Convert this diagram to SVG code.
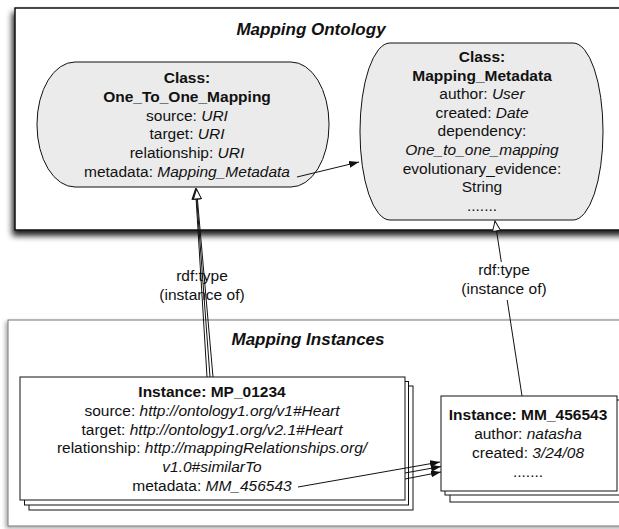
<svg xmlns="http://www.w3.org/2000/svg" width="619" height="529" viewBox="0 0 619 529">
<defs>
<style>
text { font-family: "Liberation Sans", Arial, Helvetica, sans-serif; font-size: 15.5px; fill: #111; text-anchor: middle; }
.b { font-weight: bold; }
.i { font-style: italic; }
.title { font-size: 17px; font-weight: bold; font-style: italic; }
.node { fill: #ebebeb; stroke: #111; stroke-width: 1; }
.card { fill: #fff; stroke: #111; stroke-width: 1; }
.conn { fill: none; stroke: #111; stroke-width: 1; }
.frame1 { fill: #fff; stroke: #111; stroke-width: 1.5; }
.frame2 { fill: #fff; stroke: #777; stroke-width: 1; }
</style>
<filter id="sh1" x="-10%" y="-10%" width="120%" height="125%">
<feGaussianBlur in="SourceAlpha" stdDeviation="3"/>
<feOffset dx="-2" dy="5"/>
<feComponentTransfer><feFuncA type="linear" slope="0.9"/></feComponentTransfer>
<feMerge><feMergeNode/><feMergeNode in="SourceGraphic"/></feMerge>
</filter>
<filter id="sh2" x="-10%" y="-10%" width="120%" height="125%">
<feGaussianBlur in="SourceAlpha" stdDeviation="2"/>
<feOffset dx="-2" dy="2"/>
<feComponentTransfer><feFuncA type="linear" slope="0.35"/></feComponentTransfer>
<feMerge><feMergeNode/><feMergeNode in="SourceGraphic"/></feMerge>
</filter>
<marker id="ah" viewBox="0 0 10 8" refX="10" refY="4" markerWidth="10" markerHeight="8" markerUnits="userSpaceOnUse" orient="auto">
<path d="M0,0.5 L10,4 L0,7.5 Z" fill="#111"/>
</marker>
<marker id="hollow" viewBox="-1 -1 12 10" refX="10" refY="4" markerWidth="12" markerHeight="10" markerUnits="userSpaceOnUse" orient="auto">
<path d="M0,0 L10,4 L0,8 Z" fill="#fff" stroke="#111" stroke-width="1"/>
</marker>
</defs>

<g id="mapping-ontology">
<rect class="frame1" x="15" y="8" width="620" height="222" filter="url(#sh1)"/>
<text class="title" x="311" y="35">Mapping Ontology</text>
</g>

<g id="mapping-instances">
<rect class="frame2" x="8" y="320" width="620" height="206" filter="url(#sh2)"/>
<text class="title" x="308" y="345">Mapping Instances</text>
</g>

<g id="class-one-to-one-mapping">
<rect class="node" x="37" y="62" width="292" height="125" rx="38" ry="62"/>
<text x="187" y="83" class="b">Class:</text>
<text x="187" y="102" class="b">One_To_One_Mapping</text>
<text x="187" y="120.5">source: <tspan class="i">URI</tspan></text>
<text x="187" y="139">target: <tspan class="i">URI</tspan></text>
<text x="187" y="158">relationship: <tspan class="i">URI</tspan></text>
<text x="187" y="177">metadata: <tspan class="i">Mapping_Metadata</tspan></text>
</g>

<g id="class-mapping-metadata">
<rect class="node" x="360" y="43" width="243" height="177" rx="30" ry="88"/>
<text x="482" y="62" class="b">Class:</text>
<text x="482" y="80.5" class="b">Mapping_Metadata</text>
<text x="482" y="99">author: <tspan class="i">User</tspan></text>
<text x="482" y="117.5">created: <tspan class="i">Date</tspan></text>
<text x="482" y="136">dependency:</text>
<text x="482" y="155" class="i">One_to_one_mapping</text>
<text x="482" y="173.5">evolutionary_evidence:</text>
<text x="482" y="192">String</text>
<text x="482" y="211">.......</text>
</g>

<g id="instance-mp-01234">
<rect class="card" x="29" y="386" width="384" height="124"/>
<rect class="card" x="24.5" y="381.5" width="384" height="123.5"/>
<rect class="card" x="20" y="377" width="385" height="123"/>
<text x="212" y="397" class="b">Instance: MP_01234</text>
<text x="212" y="416">source: <tspan class="i">http://ontology1.org/v1#Heart</tspan></text>
<text x="212" y="434.5">target: <tspan class="i">http://ontology1.org/v2.1#Heart</tspan></text>
<text x="212" y="453">relationship: <tspan class="i">http://mappingRelationships.org/</tspan></text>
<text x="212" y="472" class="i">v1.0#similarTo</text>
<text x="212" y="491">metadata: <tspan class="i">MM_456543</tspan></text>
</g>

<g id="instance-mm-456543">
<rect class="card" x="450" y="406" width="180" height="96"/>
<rect class="card" x="445" y="400" width="178" height="95"/>
<rect class="card" x="441" y="396" width="176" height="95"/>
<text x="528" y="420" class="b">Instance: MM_456543</text>
<text x="528" y="439">author: <tspan class="i">natasha</tspan></text>
<text x="528" y="458">created: <tspan class="i">3/24/08</tspan></text>
<text x="528" y="477">.......</text>
</g>

<g id="connectors">
<text x="202" y="281">rdf:type</text>
<text x="202" y="300">(instance of)</text>
<line class="conn" x1="207" y1="377" x2="195.5" y2="189" marker-end="url(#hollow)"/>
<line class="conn" x1="210" y1="377" x2="196" y2="189" marker-end="url(#hollow)"/>
<line class="conn" x1="213" y1="377" x2="196.5" y2="189" marker-end="url(#hollow)"/>
<line class="conn" x1="522" y1="396" x2="495" y2="221" marker-end="url(#hollow)"/>
<rect x="460" y="262" width="90" height="38" fill="#fff"/>
<text x="504" y="275">rdf:type</text>
<text x="504" y="294">(instance of)</text>
<line class="conn" x1="297" y1="177" x2="359" y2="162" marker-end="url(#ah)"/>
<line class="conn" x1="298" y1="487" x2="440" y2="462" marker-end="url(#ah)"/>
<line class="conn" x1="405" y1="473" x2="441" y2="466.5" marker-end="url(#ah)"/>
<line class="conn" x1="405" y1="479" x2="441" y2="472" marker-end="url(#ah)"/>
</g>
</svg>
